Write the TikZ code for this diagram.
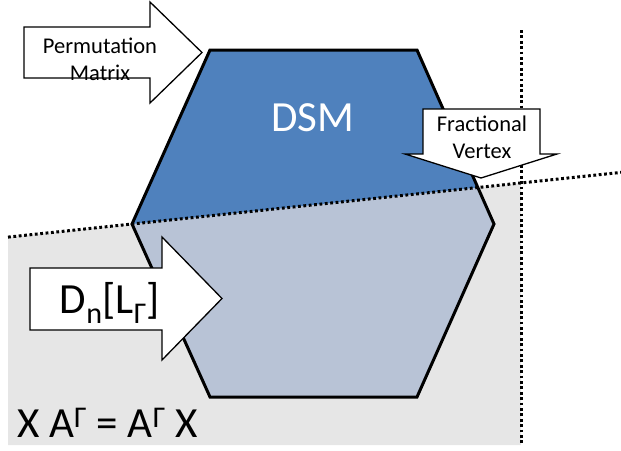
\documentclass[tikz,border=0pt]{standalone}
\usepackage{fontspec}
\setmainfont{Carlito}
\usetikzlibrary{positioning}

\definecolor{dsmblue}{HTML}{4F81BD}
\definecolor{dsmlight}{HTML}{B8C3D6}
\definecolor{halfspace}{HTML}{E6E6E6}

\tikzset{
  blockarrow/.style={draw=black, line width=1.3pt, fill=white, line join=miter},
  cutline/.style={line width=3pt, dash pattern=on 2.8pt off 2.6pt},
  hull/.style={line width=3pt, line join=miter},
  smalllbl/.style={inner sep=0pt, align=center, font=\fontsize{22.5}{27}\selectfont},
  biglbl/.style={inner sep=0pt, font=\fontsize{43}{50}\selectfont},
}

\begin{document}
\begin{tikzpicture}[x=1pt,y=-1pt]
  \useasboundingbox (0,0) rectangle (621,450);
  % corners of the polytope
  \coordinate (tl) at (210,50);
  \coordinate (tr) at (417,50);
  \coordinate (rt) at (494,224);
  \coordinate (br) at (417,397);
  \coordinate (bl) at (210,397);
  \coordinate (lt) at (132,224);
  % ends of the cutting lines
  \coordinate (cutL) at (8,237.1);
  \coordinate (cutM) at (521,183);
  \coordinate (cutR) at (621,172.4);
  \coordinate (vtop) at (521,30);
  \coordinate (vbot) at (521,445);
  % shaded half space
  \fill[halfspace] (cutL) -- (cutM) -- (vbot) -- (8,445) -- cycle;
  % polytope, lower and upper part
  \fill[dsmlight] (tl) -- (tr) -- (rt) -- (br) -- (bl) -- (lt) -- cycle;
  \begin{scope}
    \clip (cutL) -- (cutR) -- (621,0) -- (0,0) -- cycle;
    \fill[dsmblue] (tl) -- (tr) -- (rt) -- (br) -- (bl) -- (lt) -- cycle;
  \end{scope}
  \draw[hull] (tl) -- (tr) -- (rt) -- (br) -- (bl) -- (lt) -- cycle;
  \draw[cutline] (cutL) -- (cutR);
  \draw[cutline] (vtop) -- (vbot);
  \node[biglbl, text=white, anchor=base] (dsm) at (312.5,131) {DSM};
  % block arrows
  \draw[blockarrow] (24,27) -- (150,27) -- (150,2) -- (202,52.5) -- (150,103)
    -- (150,78) -- (24,78) -- cycle;
  \node[smalllbl] (perm) at (100,59) {Permutation\\Matrix};
  \draw[blockarrow] (423,109) -- (540,109) -- (540,154) -- (557,154) -- (481,178)
    -- (405,154) -- (423,154) -- cycle;
  \node[smalllbl] (frac) at (482,137) {Fractional\\Vertex};
  \draw[blockarrow] (30,268) -- (162,268) -- (162,237) -- (222,298.5) -- (162,360)
    -- (162,330) -- (30,330) -- cycle;
  \node[biglbl, anchor=base] (dn) at (110,313) {D\raisebox{-4pt}{\textsubscript{n}}[L\textsubscript{Γ}]};
  \node[biglbl, anchor=base west] (comm) at (17,437) {X A\textsuperscript{Γ} = A\textsuperscript{Γ} X};
\end{tikzpicture}
\end{document}
